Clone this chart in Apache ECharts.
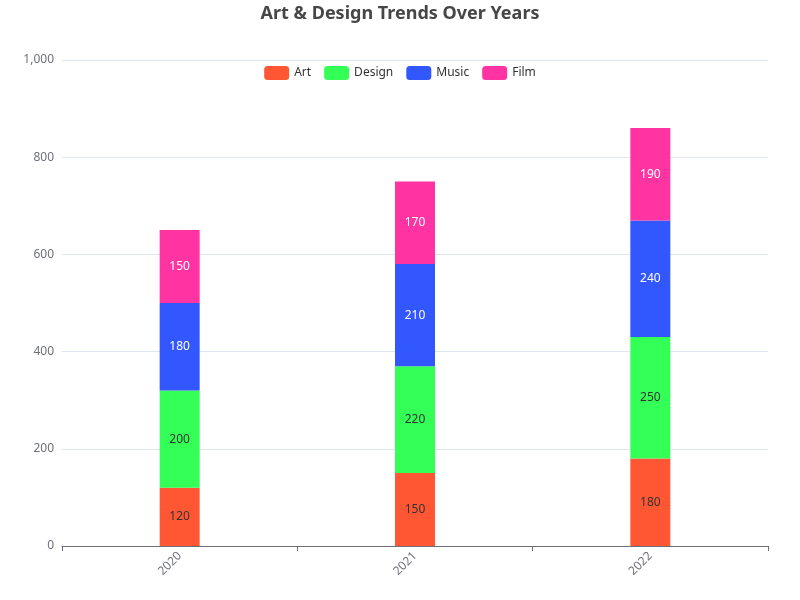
<!DOCTYPE html>
<html>
<head>
<meta charset="utf-8">
<script src="https://cdn.jsdelivr.net/npm/echarts@6/dist/echarts.min.js"></script>
<style>html,body{margin:0;padding:0;}#c{width:800px;height:600px;}</style>
</head>
<body>
<div id="c"></div>
<script>
const years = ['2020', '2021', '2022'];
const art = [120, 150, 180];
const design = [200, 220, 250];
const music = [180, 210, 240];
const film = [150, 170, 190];
const seriesNames = ['Art', 'Design', 'Music', 'Film'];
const colors = ['#FF5733', '#33FF57', '#3357FF', '#FF33A1'];
const labelColors = ['#333', '#333', '#fff', '#fff'];
const values = [art, design, music, film];

const FONT = '"Noto Sans", sans-serif';
const chart = echarts.init(document.getElementById('c'));
chart.setOption({
  textStyle: { fontFamily: FONT },
  title: {
    text: 'Art & Design Trends Over Years',
    left: 'center',
    top: 0,
    textStyle: { fontSize: 18, fontWeight: 'bold', color: '#464646', fontFamily: FONT }
  },
  legend: {
    data: seriesNames,
    top: 61,
    left: 'center',
    itemGap: 13,
    textStyle: { color: '#333', fontFamily: FONT }
  },
  grid: { left: 62, right: 32, top: 60, bottom: 54 },
  xAxis: {
    type: 'category',
    data: years,
    axisLine: { lineStyle: { color: '#6E7079' } },
    axisTick: { show: true, lineStyle: { color: '#6E7079' } },
    axisLabel: { rotate: 45, color: '#6E7079', fontFamily: FONT }
  },
  yAxis: {
    type: 'value',
    min: 0,
    max: 1000,
    interval: 200,
    axisLabel: { color: '#6E7079', fontFamily: FONT },
    splitLine: { lineStyle: { color: '#E0E6F1' } }
  },
  series: seriesNames.map((n, i) => ({
    name: n,
    type: 'bar',
    stack: 'total',
    barWidth: 40,
    itemStyle: { color: colors[i] },
    label: { show: true, position: 'inside', color: labelColors[i], fontFamily: FONT },
    data: values[i]
  }))
});
</script>
</body>
</html>
